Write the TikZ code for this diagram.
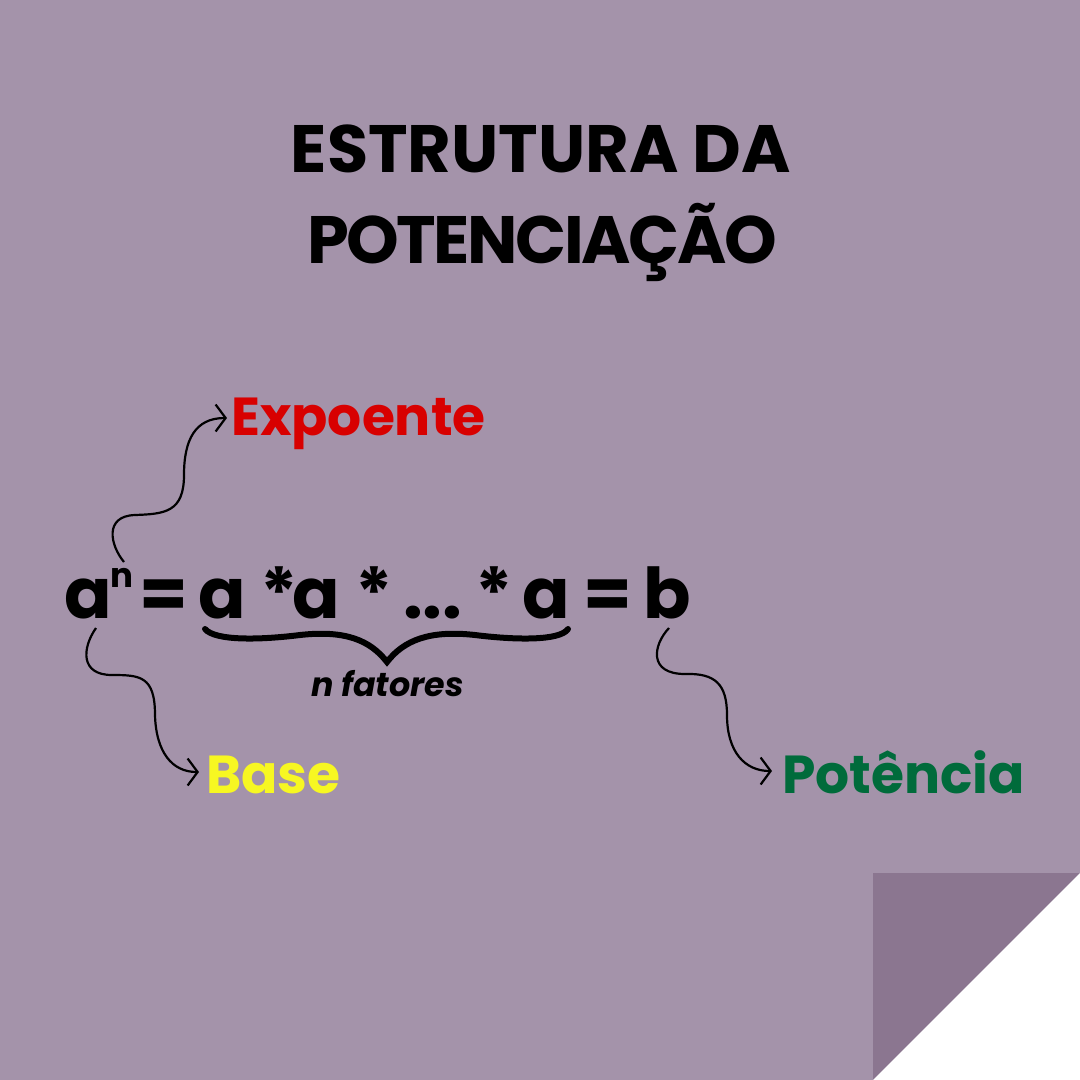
\documentclass[tikz,border=0pt]{standalone}
\usepackage{fontspec}
\setmainfont{Poppins}
\usetikzlibrary{arrows.meta}
\definecolor{bg}{HTML}{A493AA}
\definecolor{fold}{HTML}{8B7690}
\definecolor{expred}{HTML}{D80000}
\definecolor{baseyel}{HTML}{F7F722}
\definecolor{potgreen}{HTML}{006B3B}
\tikzset{
  eqtxt/.style={anchor=base west, inner sep=0pt, font=\fontsize{70}{70}\selectfont\bfseries},
  suptxt/.style={anchor=base west, inner sep=0pt, font=\fontsize{34}{34}\selectfont\bfseries},
  titletxt/.style={anchor=base, inner sep=0pt, font=\fontsize{67}{67}\selectfont\bfseries},
  lbl/.style={anchor=base west, inner sep=0pt, font=\fontsize{53.5}{53.5}\selectfont\bfseries},
  arr/.style={line width=2.2pt, -{Straight Barb[length=10pt,width=27pt,line width=2.2pt]}},
  bracestyle/.style={line width=6pt, line cap=round, line join=miter}
}
\begin{document}
\begin{tikzpicture}[x=1pt,y=-1pt]
\useasboundingbox (0,0) rectangle (1080,1080);
\fill[bg] (0,0) rectangle (1080,1080);
% folded corner
\fill[fold] (873,873) -- (1080,873) -- (873,1080) -- cycle;
\fill[white] (1080,873) -- (1080,1080) -- (873,1080) -- cycle;
% title
\node[titletxt] (t1) at (541,172) {ESTRUTURA DA};
\node[titletxt] (t2) at (542,263) {\addfontfeature{LetterSpace=-3.6}POTENCIAÇÃO};
% equation
\node[eqtxt] (a1) at (64,618) {a};
\node[suptxt] (n) at (110,587) {n};
\node[eqtxt] (eq1) at (139,618) {=};
\node[eqtxt] (a2) at (198,618) {a};
\node[eqtxt] (st1) at (260,618) {*};
\node[eqtxt] (a3) at (292,618) {a};
\node[eqtxt] (st2) at (355,618) {*};
\node[eqtxt] (dots) at (403,618) {...};
\node[eqtxt] (st3) at (475,618) {*};
\node[eqtxt] (a4) at (522,618) {a};
\node[eqtxt] (eq2) at (583,618) {=};
\node[eqtxt] (b) at (643,618) {b};
% brace
\draw[bracestyle] (205,629) .. controls (215,641) and (260,640) .. (300,635)
  .. controls (345,630) and (370,640) .. (387,662)
  .. controls (404,640) and (430,630) .. (475,635)
  .. controls (515,640) and (560,641) .. (568,629);
\node[anchor=base west, inner sep=0pt, font=\fontsize{33.3}{33.3}\selectfont\bfseries\itshape] (fat) at (311,696) {n fatores};
% labels
\node[lbl, text=expred] (expo) at (231,435) {Expoente};
\node[lbl, text=baseyel] (base) at (206,793) {Base};
\node[lbl, text=potgreen] (pot) at (782,793) {Potência};
% connectors
\coordinate (s1) at (124,562);
\coordinate (e1) at (227,418);
\coordinate (s2) at (96,628);
\coordinate (e2) at (199,772);
\coordinate (s3) at (669,628);
\coordinate (e3) at (772,771);
\draw[arr] (s1) .. controls (110,545) and (104,516) .. (135,515)
  .. controls (165,514) and (184,512) .. (184,475)
  .. controls (184,440) and (195,418) .. (e1);
\draw[arr] (s2) .. controls (82,648) and (80,675) .. (112,675)
  .. controls (140,675) and (155,676) .. (155,715)
  .. controls (156,752) and (172,772) .. (e2);
\draw[arr] (s3) .. controls (653,645) and (648,674) .. (685,674)
  .. controls (715,673) and (727,684) .. (727,715)
  .. controls (727,752) and (745,771) .. (e3);
\end{tikzpicture}
\end{document}
